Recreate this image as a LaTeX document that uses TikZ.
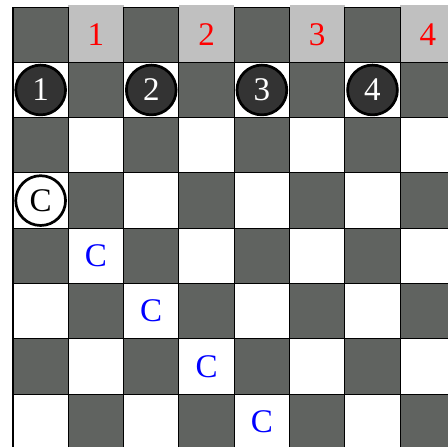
\documentclass[tikz,border=0pt]{standalone}
\usepackage{fontspec}
\setmainfont{Liberation Serif}
\definecolor{boarddark}{HTML}{606360}
\definecolor{headgray}{HTML}{C0C0C0}
\definecolor{pawnfill}{HTML}{333333}

\tikzset{
  cell/.style={draw=black, line width=0.5pt},
  colnum/.style={text=red, font=\fontsize{17}{17}\selectfont},
  pawn/.style={circle, draw=black, line width=1.4pt, fill=pawnfill, text=white,
    minimum size=0.9cm, inner sep=0pt, font=\fontsize{17}{17}\selectfont},
  ring/.style={pawn, fill=white, text=black},
  mark C/.style={text=blue, font=\fontsize{17}{17}\selectfont}
}

\begin{document}
\begin{tikzpicture}
\useasboundingbox (-0.235,0.06) rectangle (7.865,8.127);
\clip (-0.235,0.06) rectangle (7.865,8.127);

% Board squares
\foreach \r in {1,...,7}
  \foreach \c in {0,...,7} {
    \pgfmathtruncatemacro{\odd}{mod(\r+\c,2)}
    \ifnum\odd=1 \def\sq{white}\else\def\sq{boarddark}\fi
    \draw[cell, fill=\sq] (\c,7-\r) rectangle ++(1,1);
  }

% Header row
\foreach \c/\n in {1/1,3/2,5/3,7/4} {
  \fill[headgray] (\c,7) rectangle ++(1,1.03);
  \node[colnum] (col\n) at (\c+0.5,7.5) {\n};
}
\foreach \c in {0,2,4,6}
  \draw[cell, fill=boarddark] (\c,7) rectangle ++(1,1);

% Left border
\draw[line width=1.2pt] (0,-0.1) -- (0,8);

% Pawns
\foreach \c/\n in {0/1,2/2,4/3,6/4}
  \node[pawn] (pawn\n) at (\c+0.5,6.5) {\n};

% Marks
\node[ring] (mark0) at (0.5,4.5) {C};
\foreach \c/\k in {1/1,2/2,3/3,4/4}
  \node[mark C] (mark\k) at (\c+0.5,4.5-\k) {C};
\end{tikzpicture}
\end{document}
